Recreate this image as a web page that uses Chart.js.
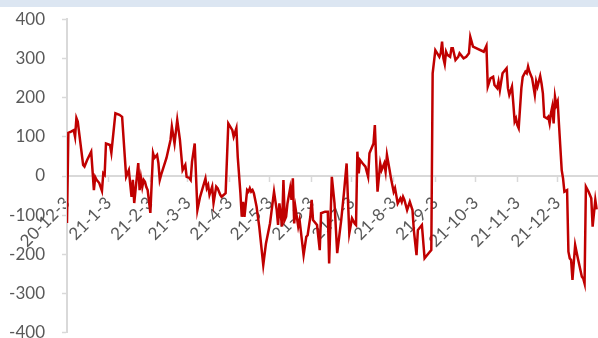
<!DOCTYPE html>
<html>
<head>
<meta charset="utf-8">
<script src="https://cdn.jsdelivr.net/npm/chart.js@4"></script>
<style>
  html, body { margin: 0; padding: 0; background: #fff; overflow: hidden; }
  #band { position: absolute; left: 0; top: 0; width: 598px; height: 7px; background: #dce6f2; }
  #wrap { position: absolute; left: 0; top: -8px; width: 598px; height: 368px; }
</style>
</head>
<body>
<div id="band"></div>
<div id="wrap"><canvas id="spread"></canvas></div>
<script>
// calendar days counted from 2020-12-03
var days = [
  0, 1, 3, 5, 6, 7, 8, 12, 13, 15,
  18, 20, 21, 22, 24, 26, 27, 28, 29, 32,
  33, 36, 39, 41, 43, 44, 46, 48, 49, 50,
  53, 54, 55, 56, 57, 58, 59, 60, 62, 64,
  65, 67, 68, 69, 70, 74, 77, 78, 80, 82,
  84, 86, 88, 89, 91, 92, 93, 95, 97, 99,
  103, 104, 105, 106, 108, 109, 111, 112, 114, 115,
  118, 120, 123, 124, 126, 127, 129, 130, 131, 132,
  134, 135, 136, 137, 138, 139, 141, 143, 146, 148,
  151, 154, 156, 157, 158, 160, 161, 162, 163, 164,
  166, 167, 168, 169, 170, 172, 173, 176, 178, 179,
  181, 182, 183, 186, 188, 189, 192, 194, 195, 197,
  199, 201, 204, 206, 208, 209, 210, 212, 214, 215,
  216, 217, 218, 220, 222, 224, 225, 228, 229, 230,
  231, 233, 234, 236, 237, 238, 240, 241, 243, 244,
  246, 248, 249, 250, 251, 253, 255, 257, 258, 260,
  261, 264, 266, 269, 271, 272, 274, 277, 278, 279,
  280, 281, 282, 283, 285, 286, 287, 289, 291, 292,
  295, 297, 299, 300, 302, 310, 312, 313, 315, 317,
  318, 320, 321, 322, 323, 324, 327, 328, 329, 331,
  332, 333, 334, 335, 336, 338, 339, 341, 342, 343,
  344, 346, 347, 348, 349, 350, 352, 353, 354, 355,
  357, 358, 359, 360, 361, 362, 363, 364, 365, 366,
  368, 369, 370, 372, 373, 374, 375, 376, 378, 380,
  383, 384, 385, 386, 388, 390, 391, 393, 394
]
var values = [
  -120, 110, 113, 117, 100, 148, 139, 28, 24, 41,
  62, -36, -3, -10, -18, -38, 7, 3, 83, 79,
  59, 160, 156, 151, 49, -2, 15, -53, -10, -69,
  33, -36, -5, -28, -10, -15, -28, -36, -94, 58,
  46, 54, 33, -10, 3, 46, 92, 126, 83, 143,
  92, 15, 28, -2, -5, -10, 36, 83, -87, -53,
  -6, -31, -23, -48, -27, -69, -27, -31, -48, -53,
  -44, 134, 117, 100, 122, 49, -44, -104, -66, -104,
  -36, -40, -31, -40, -36, -44, -78, -129, -227, -172,
  -121, -40, -87, -125, -70, -129, -10, -112, -104, -70,
  -31, -61, -6, -121, -82, -129, -112, -202, -155, -151,
  -104, -61, -112, -125, -189, -95, -91, -91, -223, -2,
  -70, -197, -112, -44, 32, -61, -146, -108, -121, -125,
  62, 7, 41, 32, 24, -2, 58, 83, 130, 41,
  -40, 32, 15, 32, 11, 54, 15, -6, -40, -31,
  -70, -57, -66, -53, -61, -87, -66, -87, -138, -202,
  -138, -125, -210, -197, -189, 262, 321, 304, 313, 343,
  300, 285, 317, 309, 304, 326, 326, 296, 304, 313,
  300, 304, 313, 355, 330, 317, 332, 228, 249, 253,
  232, 224, 241, 219, 241, 262, 275, 224, 207, 228,
  185, 139, 147, 130, 122, 224, 253, 266, 262, 279,
  266, 249, 228, 207, 241, 228, 255, 236, 211, 151,
  147, 151, 134, 160, 177, 134, 202, 181, 190, 130,
  15, -6, -40, -36, -193, -210, -214, -265, -176, -210,
  -257, -261, -274, -27, -40, -57, -129, -61, -85
]
var tickDays = [0, 31, 62, 90, 121, 151, 182, 212, 243, 274, 304, 335, 365]
var tickLabels = ['20-12-3', '21-1-3', '21-2-3', '21-3-3', '21-4-3', '21-5-3', '21-6-3',
  '21-7-3', '21-8-3', '21-9-3', '21-10-3', '21-11-3', '21-12-3']

var font = { family: 'Lato', size: 17 }
var grey = '#595959'
var axisGrey = '#d9d9d9'

var ctx = document.getElementById('spread')
new Chart(ctx, {
  type: 'line',
  data: {
    datasets: [
      {
        data: days.map(function (d, i) { return { x: d, y: values[i] } }),
        borderColor: '#c00000',
        borderWidth: 2.5,
        pointRadius: 0,
        tension: 0,
        fill: false,
      },
    ],
  },
  options: {
    responsive: true,
    maintainAspectRatio: false,
    animation: false,
    layout: { padding: { left: 0, right: 0, top: 12, bottom: 13 } },
    plugins: {
      legend: { display: false },
      tooltip: { enabled: false },
    },
    scales: {
      x: {
        type: 'linear',
        position: { y: 0 },
        min: 0,
        max: 395,
        afterBuildTicks: function (axis) {
          axis.ticks = tickDays.map(function (v) { return { value: v } })
        },
        grid: { drawOnChartArea: false, tickLength: 5, tickColor: axisGrey, tickWidth: 1.5 },
        border: { display: true, color: axisGrey, width: 2 },
        ticks: {
          autoSkip: false,
          minRotation: 45,
          maxRotation: 45,
          padding: 12,
          color: grey,
          font: font,
          callback: function (value) {
            var i = tickDays.indexOf(value)
            return i >= 0 ? tickLabels[i] : ''
          },
        },
      },
      y: {
        min: -400,
        max: 400,
        afterFit: function (scale) { scale.width = 67 },
        grid: { drawOnChartArea: false, tickLength: 5, tickColor: axisGrey, tickWidth: 1.5 },
        border: { display: true, color: axisGrey, width: 2 },
        ticks: { stepSize: 100, padding: 17, color: grey, font: font },
      },
    },
  },
})
</script>
</body>
</html>
